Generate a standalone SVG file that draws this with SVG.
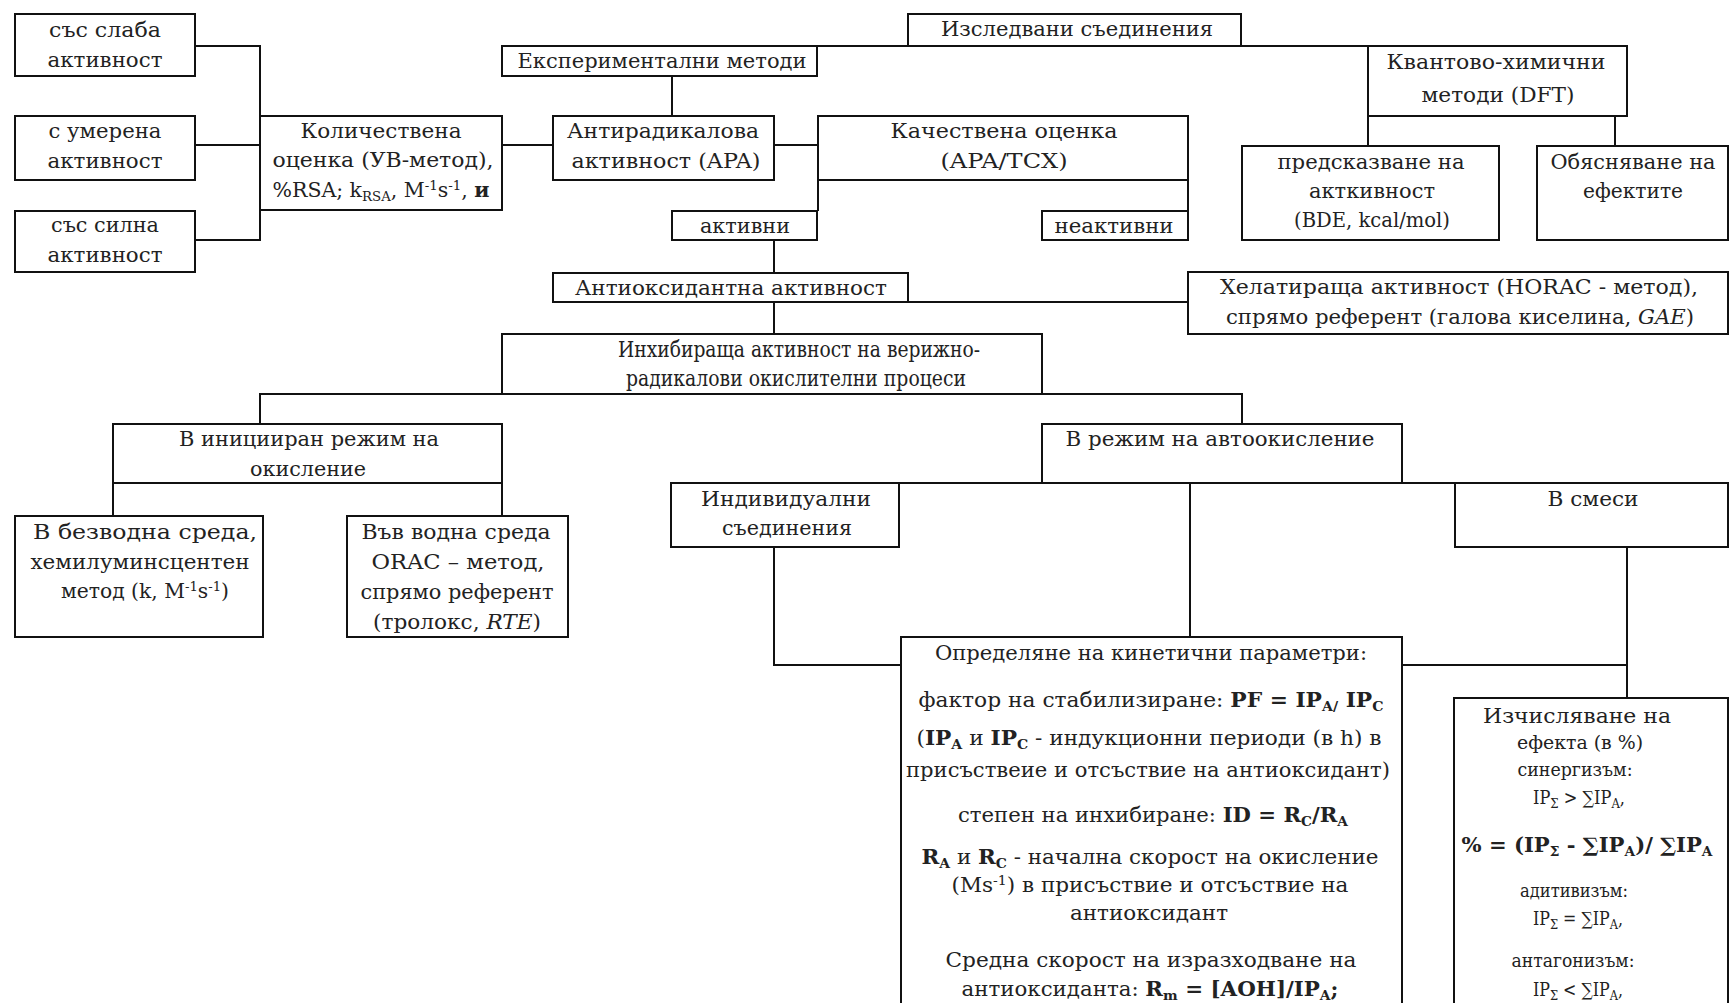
<svg xmlns="http://www.w3.org/2000/svg" width="1730" height="1003" viewBox="0 0 1730 1003">
<style>
.b{fill:#fff;stroke:#111;stroke-width:2}
.c{fill:none;stroke:#111;stroke-width:2}
text{font-family:"DejaVu Serif","Liberation Serif",serif;font-size:20px;text-anchor:middle;fill:#222}
.k{font-weight:bold}
.i{font-style:italic}
.s{font-size:13px}
.m{font-size:18px}
.l{font-size:22px}
</style>
<rect width="1730" height="1003" fill="#fff"/>
<g id="connectors">
<path class="c" d="M502 46H1368"/>
<path class="c" d="M672 76V116"/>
<path class="c" d="M195 46H260V240H195M195 145H260"/>
<path class="c" d="M502 145H553"/>
<path class="c" d="M774 145H818"/>
<path class="c" d="M818 180V211M1188 180V211"/>
<path class="c" d="M1368 116V146M1615 116V146"/>
<path class="c" d="M774 240V273"/>
<path class="c" d="M908 302H1188"/>
<path class="c" d="M774 302V334"/>
<path class="c" d="M502 394H260V424"/>
<path class="c" d="M1042 394H1242V424"/>
<path class="c" d="M113 483V516M502 483V516"/>
<path class="c" d="M899 483H1455"/>
<path class="c" d="M1190 483V637"/>
<path class="c" d="M774 547V665H901"/>
<path class="c" d="M1402 665H1627M1627 547V698"/>
</g>
<g id="n1"><rect class="b" x="908" y="14" width="333" height="32"/><text x="1077" y="36" textLength="272" lengthAdjust="spacingAndGlyphs">Изследвани съединения</text></g>
<g id="n2"><rect class="b" x="502" y="46" width="315" height="30"/><text x="662" y="68" textLength="289" lengthAdjust="spacingAndGlyphs">Експериментални методи</text></g>
<g id="n3"><rect class="b" x="1368" y="46" width="259" height="70"/><text x="1496" y="69" textLength="219" lengthAdjust="spacingAndGlyphs">Квантово-химични</text><text x="1498" y="102" textLength="153" lengthAdjust="spacingAndGlyphs">методи (DFT)</text></g>
<g id="n4"><rect class="b" x="15" y="14" width="180" height="62"/><text x="105" y="37" textLength="112" lengthAdjust="spacingAndGlyphs">със слаба</text><text x="105" y="67" textLength="115" lengthAdjust="spacingAndGlyphs">активност</text></g>
<g id="n5"><rect class="b" x="15" y="116" width="180" height="64"/><text x="105" y="138" textLength="113" lengthAdjust="spacingAndGlyphs">с умерена</text><text x="105" y="168" textLength="115" lengthAdjust="spacingAndGlyphs">активност</text></g>
<g id="n6"><rect class="b" x="15" y="211" width="180" height="61"/><text x="105" y="232" textLength="108" lengthAdjust="spacingAndGlyphs">със силна</text><text x="105" y="262" textLength="115" lengthAdjust="spacingAndGlyphs">активност</text></g>
<g id="n7"><rect class="b" x="260" y="116" width="242" height="94"/><text x="381" y="138" textLength="161" lengthAdjust="spacingAndGlyphs">Количествена</text><text x="383" y="167" textLength="221" lengthAdjust="spacingAndGlyphs">оценка (УВ-метод),</text><text x="381" y="197" textLength="217" lengthAdjust="spacingAndGlyphs">%RSA; k<tspan class="s" dy="4">RSA</tspan><tspan dy="-4">, M</tspan><tspan class="s" dy="-7">-1</tspan><tspan dy="7">s</tspan><tspan class="s" dy="-7">-1</tspan><tspan dy="7">, </tspan><tspan class="k">и</tspan></text></g>
<g id="n8"><rect class="b" x="553" y="116" width="221" height="64"/><text x="663" y="138" textLength="192" lengthAdjust="spacingAndGlyphs">Антирадикалова</text><text x="666" y="168" textLength="189" lengthAdjust="spacingAndGlyphs">активност (APA)</text></g>
<g id="n9"><rect class="b" x="818" y="116" width="370" height="64"/><text x="1004" y="138" textLength="227" lengthAdjust="spacingAndGlyphs">Качествена оценка</text><text x="1004" y="168" textLength="127" lengthAdjust="spacingAndGlyphs">(APA/TCX)</text></g>
<g id="n10"><rect class="b" x="672" y="211" width="145" height="29"/><text x="745" y="233" textLength="90" lengthAdjust="spacingAndGlyphs">активни</text></g>
<g id="n11"><rect class="b" x="1042" y="211" width="146" height="29"/><text x="1114" y="233" textLength="119" lengthAdjust="spacingAndGlyphs">неактивни</text></g>
<g id="n12"><rect class="b" x="1242" y="146" width="257" height="94"/><text x="1371" y="169" textLength="187" lengthAdjust="spacingAndGlyphs">предсказване на</text><text x="1372" y="198" textLength="126" lengthAdjust="spacingAndGlyphs">акткивност</text><text x="1372" y="227" textLength="156" lengthAdjust="spacingAndGlyphs">(BDE, kcal/mol)</text></g>
<g id="n13"><rect class="b" x="1537" y="146" width="191" height="94"/><text x="1633" y="169" textLength="165" lengthAdjust="spacingAndGlyphs">Обясняване на</text><text x="1633" y="198" textLength="100" lengthAdjust="spacingAndGlyphs">ефектите</text></g>
<g id="n14"><rect class="b" x="553" y="273" width="355" height="29"/><text x="731" y="295" textLength="312" lengthAdjust="spacingAndGlyphs">Антиоксидантна активност</text></g>
<g id="n15"><rect class="b" x="1188" y="272" width="540" height="62"/><text x="1459" y="294" textLength="478" lengthAdjust="spacingAndGlyphs">Хелатираща активност (HORAC - метод),</text><text x="1460" y="324" textLength="468" lengthAdjust="spacingAndGlyphs">спрямо референт (галова киселина, <tspan class="i">GAE</tspan>)</text></g>
<g id="n16"><rect class="b" x="502" y="334" width="540" height="60"/><text class="l" x="799" y="357" textLength="362" lengthAdjust="spacingAndGlyphs">Инхибираща активност на верижно-</text><text class="l" x="796" y="386" textLength="340" lengthAdjust="spacingAndGlyphs">радикалови окислителни процеси</text></g>
<g id="n17"><rect class="b" x="113" y="424" width="389" height="59"/><text x="309" y="446" textLength="260" lengthAdjust="spacingAndGlyphs">В иницииран режим на</text><text x="308" y="476" textLength="116" lengthAdjust="spacingAndGlyphs">окисление</text></g>
<g id="n18"><rect class="b" x="1042" y="424" width="360" height="59"/><text x="1220" y="446" textLength="309" lengthAdjust="spacingAndGlyphs">В режим на автоокисление</text></g>
<g id="n19"><rect class="b" x="15" y="516" width="248" height="121"/><text x="145" y="539" textLength="224" lengthAdjust="spacingAndGlyphs">В безводна среда,</text><text x="140" y="569" textLength="219" lengthAdjust="spacingAndGlyphs">хемилуминсцентен</text><text x="145" y="598" textLength="168" lengthAdjust="spacingAndGlyphs">метод (k, M<tspan class="s" dy="-7">-1</tspan><tspan dy="7">s</tspan><tspan class="s" dy="-7">-1</tspan><tspan dy="7">)</tspan></text></g>
<g id="n20"><rect class="b" x="347" y="516" width="221" height="121"/><text x="456" y="539" textLength="189" lengthAdjust="spacingAndGlyphs">Във водна среда</text><text x="458" y="569" textLength="173" lengthAdjust="spacingAndGlyphs">ORAC – метод,</text><text x="457" y="599" textLength="193" lengthAdjust="spacingAndGlyphs">спрямо референт</text><text x="457" y="629" textLength="168" lengthAdjust="spacingAndGlyphs">(тролокс, <tspan class="i">RTE</tspan>)</text></g>
<g id="n21"><rect class="b" x="671" y="483" width="228" height="64"/><text x="786" y="506" textLength="170" lengthAdjust="spacingAndGlyphs">Индивидуални</text><text x="787" y="535" textLength="130" lengthAdjust="spacingAndGlyphs">съединения</text></g>
<g id="n22"><rect class="b" x="1455" y="483" width="273" height="64"/><text x="1593" y="506" textLength="91" lengthAdjust="spacingAndGlyphs">В смеси</text></g>
<g id="n23"><rect class="b" x="901" y="637" width="501" height="380"/>
<text x="1151" y="660" textLength="432" lengthAdjust="spacingAndGlyphs">Определяне на кинетични параметри:</text>
<text x="1151" y="707" textLength="465" lengthAdjust="spacingAndGlyphs">фактор на стабилизиране: <tspan class="k">PF = IP</tspan><tspan class="s k" dy="4">A/</tspan><tspan class="k" dy="-4"> IP</tspan><tspan class="s k" dy="4">C</tspan></text>
<text x="1149" y="745" textLength="465" lengthAdjust="spacingAndGlyphs">(<tspan class="k">IP</tspan><tspan class="s k" dy="4">A</tspan><tspan dy="-4"> и </tspan><tspan class="k">IP</tspan><tspan class="s k" dy="4">C</tspan><tspan dy="-4"> - индукционни периоди (в h) в</tspan></text>
<text x="1148" y="777" textLength="484" lengthAdjust="spacingAndGlyphs">присъствеие и отсъствие на антиоксидант)</text>
<text x="1153" y="822" textLength="390" lengthAdjust="spacingAndGlyphs">степен на инхибиране: <tspan class="k">ID = R</tspan><tspan class="s k" dy="4">C</tspan><tspan class="k" dy="-4">/R</tspan><tspan class="s k" dy="4">A</tspan></text>
<text x="1150" y="864" textLength="457" lengthAdjust="spacingAndGlyphs"><tspan class="k">R</tspan><tspan class="s k" dy="4">A</tspan><tspan dy="-4"> и </tspan><tspan class="k">R</tspan><tspan class="s k" dy="4">C</tspan><tspan dy="-4"> - начална скорост на окисление</tspan></text>
<text x="1150" y="892" textLength="397" lengthAdjust="spacingAndGlyphs">(Ms<tspan class="s" dy="-7">-1</tspan><tspan dy="7">) в присъствие и отсъствие на</tspan></text>
<text x="1149" y="920" textLength="158" lengthAdjust="spacingAndGlyphs">антиоксидант</text>
<text x="1151" y="967" textLength="411" lengthAdjust="spacingAndGlyphs">Средна скорост на изразходване на</text>
<text x="1150" y="996" textLength="377" lengthAdjust="spacingAndGlyphs">антиоксиданта: <tspan class="k">R</tspan><tspan class="s k" dy="4">m</tspan><tspan class="k" dy="-4"> = [AOH]/IP</tspan><tspan class="s k" dy="4">A</tspan><tspan class="k" dy="-4">;</tspan></text>
</g>
<g id="n24"><rect class="b" x="1454" y="698" width="274" height="320"/>
<text x="1577" y="723" textLength="188" lengthAdjust="spacingAndGlyphs">Изчисляване на</text>
<text class="m" x="1580" y="749" textLength="126" lengthAdjust="spacingAndGlyphs">ефекта (в %)</text>
<text class="m" x="1575" y="776" textLength="115" lengthAdjust="spacingAndGlyphs">синергизъм:</text>
<text class="m" x="1579" y="804" textLength="92" lengthAdjust="spacingAndGlyphs">IP<tspan class="s" dy="4">Σ</tspan><tspan dy="-4"> &gt; ∑IP</tspan><tspan class="s" dy="4">A</tspan><tspan dy="-4">,</tspan></text>
<text x="1587" y="852" textLength="251" lengthAdjust="spacingAndGlyphs" class="k">% = (IP<tspan class="s" dy="4">Σ</tspan><tspan dy="-4"> - ∑IP</tspan><tspan class="s" dy="4">A</tspan><tspan dy="-4">)/ ∑IP</tspan><tspan class="s" dy="4">A</tspan></text>
<text class="m" x="1574" y="897" textLength="108" lengthAdjust="spacingAndGlyphs">адитивизъм:</text>
<text class="m" x="1578" y="925" textLength="90" lengthAdjust="spacingAndGlyphs">IP<tspan class="s" dy="4">Σ</tspan><tspan dy="-4"> = ∑IP</tspan><tspan class="s" dy="4">A</tspan><tspan dy="-4">,</tspan></text>
<text class="m" x="1573" y="967" textLength="123" lengthAdjust="spacingAndGlyphs">антагонизъм:</text>
<text class="m" x="1578" y="996" textLength="90" lengthAdjust="spacingAndGlyphs">IP<tspan class="s" dy="4">Σ</tspan><tspan dy="-4"> &lt; ∑IP</tspan><tspan class="s" dy="4">A</tspan><tspan dy="-4">,</tspan></text>
</g>
</svg>
